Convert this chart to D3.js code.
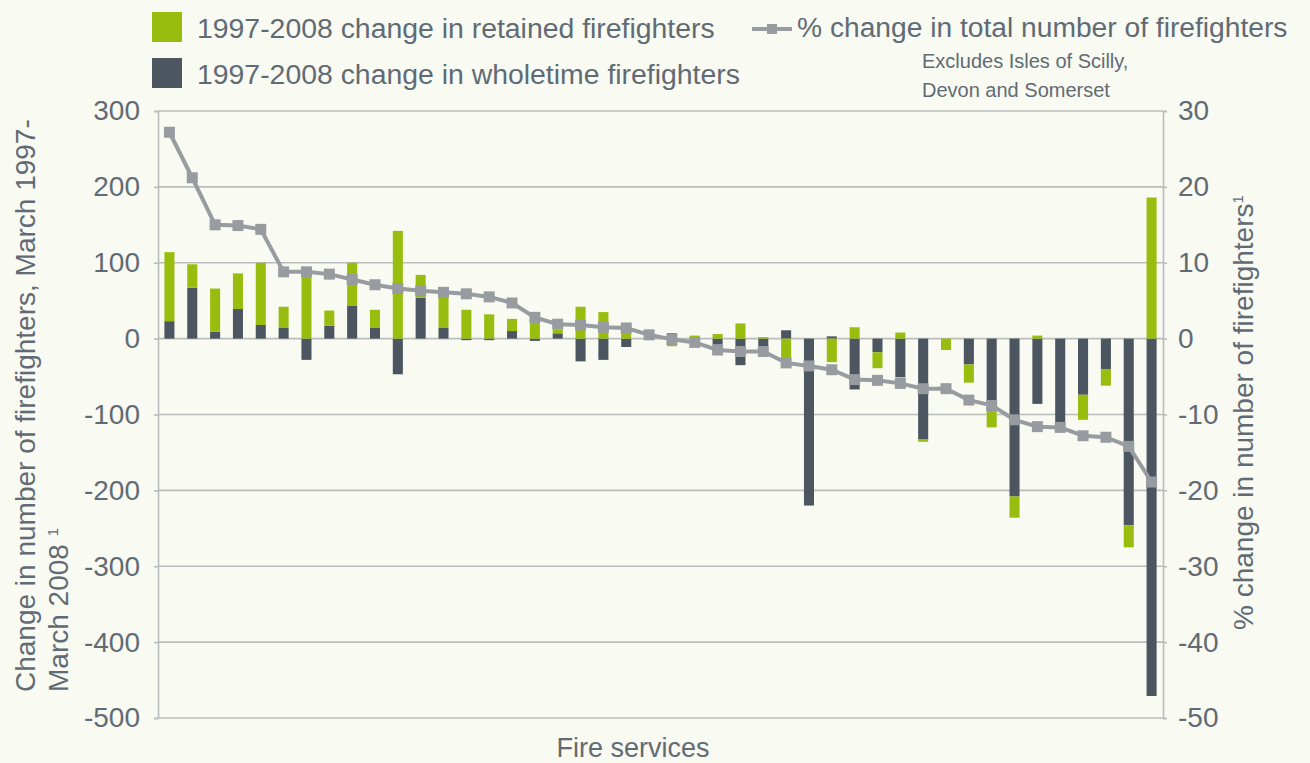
<!DOCTYPE html>
<html>
<head>
<meta charset="utf-8">
<script src="https://cdn.jsdelivr.net/npm/d3@7"></script>
<style>
  body { margin: 0; background: #f9faf2; }
  text { font-family: "Helvetica Neue", "Liberation Sans", Arial, sans-serif; fill: #606b75; }
</style>
</head>
<body>
<div id="chart"></div>
<script>
// Data, one entry per fire service (sorted by % change)
var wholetime = [23, 67, 9, 39, 18, 14, -28, 17, 43, 14, -47, 54, 14, -2, -2, 10, -3, 7, -30, -28, -11, 2,
                 7, -4, -8, -35, -10, 11, -220, 3, -67, -18, -51, -133, 0, -34, -96, -208, -86, -111, -74, -40, -246, -471];
var retained  = [91, 31, 57, 47, 82, 28, 82, 20, 57, 24, 142, 30, 41, 38, 32, 16, 24, 5, 42, 35, 8, 2,
                 -10, 4, 6, 20, 2, -26, 0, -31, 15, -21, 8, -3, -15, -24, -21, -28, 4, 0, -33, -22, -29, 186];
var pctChange = [27.2, 21.2, 15.0, 14.9, 14.4, 8.8, 8.8, 8.5, 7.8, 7.1, 6.6, 6.3, 6.1, 5.9, 5.5, 4.7, 2.8, 1.9, 1.8, 1.5, 1.4, 0.5,
                 -0.1, -0.5, -1.5, -1.7, -1.7, -3.2, -3.6, -4.1, -5.4, -5.5, -5.9, -6.6, -6.6, -8.1, -8.8, -10.7, -11.6, -11.7, -12.8, -13.0, -14.2, -18.9];
var leftTicks = [300, 200, 100, 0, -100, -200, -300, -400, -500];
var rightTicks = [30, 20, 10, 0, -10, -20, -30, -40, -50];

var greenCol = "#99bd0e", darkCol = "#4b5660", lineCol = "#989ca1", gridCol = "#b9bdbb";

// Set the dimensions and margins
var margin = {top: 111, right: 147, bottom: 45, left: 158},
    width = 1310 - margin.left - margin.right,
    height = 763 - margin.top - margin.bottom;

var svgRoot = d3.select("#chart").append("svg")
    .attr("width", 1310)
    .attr("height", 763);
var svg = svgRoot.append("g")
    .attr("transform", "translate(" + margin.left + "," + margin.top + ")");

// build the table the stack needs
var table = wholetime.map(function(w, i) {
    return {idx: i, wholetime: w, retained: retained[i], pct: pctChange[i]};
});

var x = d3.scaleBand()
    .domain(table.map(function(d) { return d.idx; }))
    .range([0, width])
    .paddingInner(0.56)
    .paddingOuter(0.28);
var y = d3.scaleLinear().domain([-500, 300]).range([height, 0]);
var y2 = d3.scaleLinear().domain([-50, 30]).range([height, 0]);

// gridlines
svg.append("g")
    .selectAll("line")
    .data(leftTicks)
    .join("line")
    .attr("x1", 0).attr("x2", width)
    .attr("y1", function(d) { return y(d); })
    .attr("y2", function(d) { return y(d); })
    .attr("stroke", gridCol)
    .attr("stroke-width", 1.6);

// stacked bars (positive and negative parts stack separately)
var stack = d3.stack()
    .keys(["wholetime", "retained"])
    .offset(d3.stackOffsetDiverging);
var layers = stack(table);
var colors = {wholetime: darkCol, retained: greenCol};

svg.append("g")
    .selectAll("g")
    .data(layers)
    .join("g")
    .attr("fill", function(d) { return colors[d.key]; })
    .selectAll("rect")
    .data(function(d) { return d; })
    .join("rect")
    .attr("x", function(d) { return x(d.data.idx); })
    .attr("width", x.bandwidth())
    .attr("y", function(d) { return y(Math.max(d[0], d[1])); })
    .attr("height", function(d) { return Math.abs(y(d[0]) - y(d[1])); });

// axes (plain hyphen for negatives, as in the original)
var plain = function(d) { return String(d); };
var leftAxis = svg.append("g")
    .call(d3.axisLeft(y).tickValues(leftTicks).tickFormat(plain).tickSize(4).tickPadding(14));
var rightAxis = svg.append("g")
    .attr("transform", "translate(" + width + ",0)")
    .call(d3.axisRight(y2).tickValues(rightTicks).tickFormat(plain).tickSize(4).tickPadding(11));
[leftAxis, rightAxis].forEach(function(a) {
    a.select(".domain").attr("stroke", gridCol).attr("stroke-width", 1.6);
    a.selectAll(".tick line").attr("stroke", gridCol).attr("stroke-width", 1.6);
    a.selectAll(".tick text")
        .style("font-size", "28px")
        .attr("fill", "#606b75")
        .style("font-family", "'Helvetica Neue', 'Liberation Sans', Arial, sans-serif");
});

// % change line
var line = d3.line()
    .x(function(d) { return x(d.idx) + x.bandwidth() / 2; })
    .y(function(d) { return y2(d.pct); });
svg.append("path")
    .datum(table)
    .attr("fill", "none")
    .attr("stroke", lineCol)
    .attr("stroke-width", 4)
    .attr("d", line);
svg.append("g")
    .selectAll("rect")
    .data(table)
    .join("rect")
    .attr("x", function(d) { return x(d.idx) + x.bandwidth() / 2 - 5.5; })
    .attr("y", function(d) { return y2(d.pct) - 5.5; })
    .attr("width", 11)
    .attr("height", 11)
    .attr("fill", lineCol);

// X axis label
svgRoot.append("text")
    .attr("x", 633)
    .attr("y", 757)
    .style("text-anchor", "middle")
    .style("font-size", "27px")
    .text("Fire services");

// Left Y axis label (two lines)
svgRoot.append("text")
    .attr("transform", "translate(35,692) rotate(-90)")
    .style("font-size", "28px")
    .text("Change in number of firefighters, March 1997-");
var l2 = svgRoot.append("text")
    .attr("transform", "translate(68,692) rotate(-90)")
    .style("font-size", "28px")
    .text("March 2008 ");
l2.append("tspan").attr("dy", -10).style("font-size", "15px").text("1");

// Right Y axis label
var r = svgRoot.append("text")
    .attr("transform", "translate(1253,630) rotate(-90)")
    .style("font-size", "28px")
    .text("% change in number of firefighters");
r.append("tspan").attr("dy", -10).style("font-size", "15px").text("1");

// legend
svgRoot.append("rect").attr("x", 152).attr("y", 12).attr("width", 30).attr("height", 30).attr("fill", greenCol);
svgRoot.append("text").attr("x", 197).attr("y", 38).style("font-size", "28.4px")
    .text("1997-2008 change in retained firefighters");
svgRoot.append("rect").attr("x", 152).attr("y", 58).attr("width", 30).attr("height", 30).attr("fill", darkCol);
svgRoot.append("text").attr("x", 197).attr("y", 84).style("font-size", "28.4px")
    .text("1997-2008 change in wholetime firefighters");
svgRoot.append("line").attr("x1", 752).attr("x2", 792).attr("y1", 29).attr("y2", 29)
    .attr("stroke", lineCol).attr("stroke-width", 4);
svgRoot.append("rect").attr("x", 767).attr("y", 24).attr("width", 10).attr("height", 10).attr("fill", lineCol);
svgRoot.append("text").attr("x", 797).attr("y", 37).style("font-size", "28.2px")
    .text("% change in total number of firefighters");

// note
svgRoot.append("text").attr("x", 922).attr("y", 68).style("font-size", "20px")
    .text("Excludes Isles of Scilly,");
svgRoot.append("text").attr("x", 922).attr("y", 97).style("font-size", "20px")
    .text("Devon and Somerset");
</script>
</body>
</html>
